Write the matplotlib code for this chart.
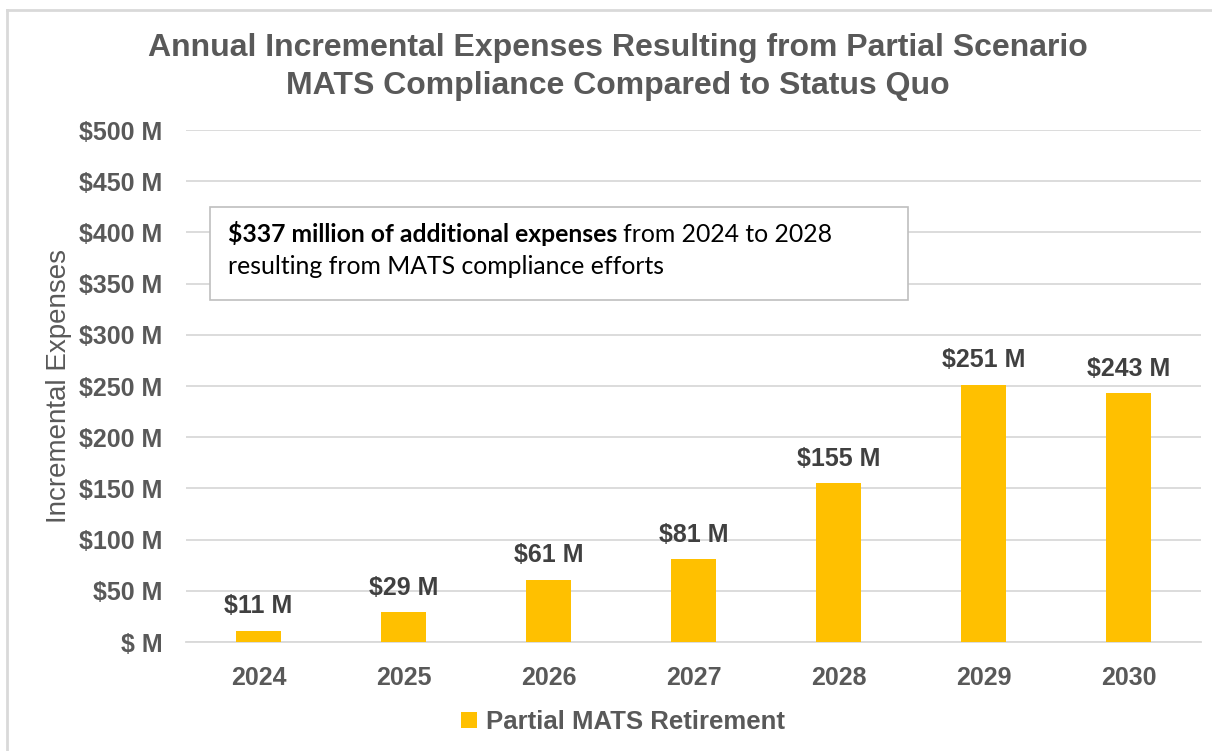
import matplotlib
matplotlib.use("Agg")
import matplotlib.pyplot as plt
from matplotlib.patches import Rectangle
from matplotlib.ticker import FuncFormatter

years = ["2024", "2025", "2026", "2027", "2028", "2029", "2030"]
values = [11, 29, 61, 81, 155, 251, 243]
yticks = [0, 50, 100, 150, 200, 250, 300, 350, 400, 450, 500]
series_name = "Partial MATS Retirement"
title = "Annual Incremental Expenses Resulting from Partial Scenario\nMATS Compliance Compared to Status Quo"
ylabel = "Incremental Expenses"
note_bold = "$337 million of additional expenses"
note_rest = "from 2024 to 2028"
note_line2 = "resulting from MATS compliance efforts"

BAR = "#FFC000"
GRAY = "#595959"
DARK = "#404040"
GRID = "#D9D9D9"
W, H = 1212, 751

plt.rcParams['font.family'] = ['Liberation Sans', 'DejaVu Sans']

fig = plt.figure(figsize=(W / 100, H / 100), dpi=100)
ax = fig.add_axes([186 / W, 1 - 642 / H, 1015 / W, 512 / H])

x = list(range(len(years)))
bars = ax.bar(x, values, width=0.31, color=BAR, label=series_name, zorder=3)
ax.set_xlim(-0.5, len(years) - 0.5)
ax.set_ylim(0, 500)
ax.set_yticks(yticks)
ax.yaxis.set_major_formatter(FuncFormatter(lambda v, p: "$%d M" % v if v else "$ M"))
ax.set_xticks(x)
ax.set_xticklabels(years)

for t in ax.get_yticklabels() + ax.get_xticklabels():
    t.set_fontweight("bold")
    t.set_color(GRAY)
    t.set_fontsize(18)
ax.tick_params(axis="both", length=0)
ax.tick_params(axis="y", pad=17)
ax.tick_params(axis="x", pad=17)

ax.grid(axis="y", color=GRID, linewidth=1.3, zorder=0)
for s in ["top", "right", "left"]:
    ax.spines[s].set_visible(False)
ax.spines["bottom"].set_color(GRID)
ax.spines["bottom"].set_linewidth(1.3)

for xi, v in zip(x, values):
    ax.annotate("$%d M" % v, (xi, v), xytext=(0, 9), textcoords="offset points",
                ha="center", va="bottom", fontsize=18, fontweight="bold", color=DARK)

ax.set_ylabel(ylabel, fontsize=20, color=GRAY)
ax.yaxis.set_label_coords(-0.112, 0.5)

fig.text(618 / W, 1 - 67 / H, title, ha="center", va="center", fontsize=23,
         fontweight="bold", color=GRAY, linespacing=1.32)

# annotation box
fig.patches.append(Rectangle((210 / W, 1 - 300 / H), 698 / W, 93 / H,
                             transform=fig.transFigure, facecolor="white",
                             edgecolor="#BFBFBF", linewidth=1.2, zorder=5))
fam = ["Lato", "DejaVu Sans"]
tb = fig.text(228 / W, 1 - 234 / H, note_bold, fontsize=17.8, fontweight="bold",
              family=fam, color="black", va="center", ha="left", zorder=6)
fig.canvas.draw()
r = tb.get_window_extent(renderer=fig.canvas.get_renderer())
fig.text(r.x1 / W + 0.005, 1 - 234 / H, note_rest, fontsize=17.8, family=fam,
         color="black", va="center", ha="left", zorder=6)
fig.text(228 / W, 1 - 266 / H, note_line2, fontsize=17.8, family=fam,
         color="black", va="center", ha="left", zorder=6)

leg = fig.legend(handles=[bars], labels=[series_name], loc="center",
                 bbox_to_anchor=(623 / W, 1 - 722 / H), frameon=False,
                 prop={"size": 18.5, "weight": "bold"}, handlelength=0.6,
                 handleheight=0.6, handletextpad=0.35)
for t in leg.get_texts():
    t.set_color(GRAY)

# outer border (top and left)
fig.add_artist(plt.Line2D([7 / W, 7 / W], [0, 1 - 10 / H],
                          transform=fig.transFigure, color=GRID, linewidth=2))
fig.add_artist(plt.Line2D([7 / W, 1], [1 - 10 / H, 1 - 10 / H],
                          transform=fig.transFigure, color=GRID, linewidth=2))

fig.savefig("out.png", dpi=100)
